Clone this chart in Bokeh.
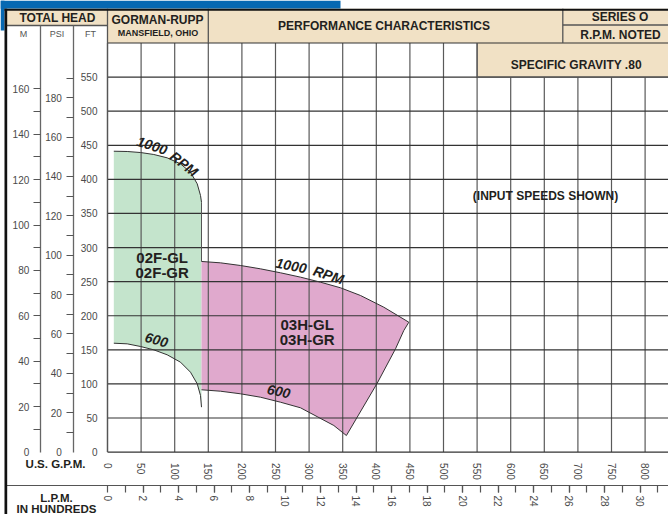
from bokeh.plotting import figure
from bokeh.models import Range1d, LinearAxis, FixedTicker, Label
from bokeh.embed import file_html
from bokeh.resources import INLINE

# ---------------- data ----------------
gpm_ticks = list(range(0, 801, 50))
ft_ticks = list(range(0, 551, 50))
psi_ticks = list(range(0, 181, 20))
psi_minor = list(range(10, 191, 10))
m_ticks = list(range(0, 161, 20))
m_minor = list(range(10, 161, 10))
lpm_ticks = list(range(0, 31, 2))
lpm_minor = list(range(1, 32, 1))

# 02F-GL / 02F-GR  (U.S. GPM, feet)
f02_hi_gpm = [9.4, 29.3, 49.1, 68.9, 88.8, 108.6, 123.5, 133.5, 138.4, 139.9]
f02_hi_ft = [441.3, 440.9, 439.4, 436.5, 431.6, 422.8, 410.5, 393.5, 376.4, 366.5]
f02_lo_gpm = [9.4, 29.3, 49.1, 68.9, 88.8, 108.6, 123.5, 133.5, 138.4, 139.9]
f02_lo_ft = [159.7, 158.8, 154.9, 150.0, 142.7, 131.9, 117.2, 100.2, 83.0, 65.9]

# 03H-GL / 03H-GR
h03_hi_gpm = [139.9, 168.2, 197.9, 227.7, 257.4, 287.2, 317.0, 346.7, 376.5, 411.2, 448.4]
h03_hi_ft = [279.6, 277.6, 273.7, 268.8, 263.0, 256.6, 249.2, 241.0, 229.7, 212.5, 190.5]
h03_edge_gpm = [448.4, 440.9, 428.6, 401.3, 355.5]
h03_edge_ft = [190.5, 178.3, 151.5, 101.0, 24.3]
h03_lo_gpm = [139.9, 168.2, 197.9, 227.7, 257.4, 287.2, 312.0, 336.8, 355.5]
h03_lo_ft = [91.4, 89.3, 85.5, 80.5, 73.2, 65.0, 52.0, 39.0, 24.3]

# ---------------- scales ----------------
FT_PER_PSI = 2.31 / 0.80
FT_PER_M = 3.33
LPMH_PER_GPM = 3.785 / 100.0

W, H = 668, 514
PXG = 0.672    # px per GPM
PXF = 0.6818   # px per ft
X0, X1 = -107.0 / PXG, 561.0 / PXG
Y1 = 451.6 / PXF
Y0 = Y1 - H / PXF

def gx(px):  # canvas px -> gpm (layout helper)
    return (px - 107.0) / PXG

def fy(py):  # canvas px -> ft (layout helper)
    return (451.6 - py) / PXF

TAN = "#f1e1c5"
GREEN = "#c4e4cc"
PINK = "#e0a9cd"
BLUE = "#0668b2"
TXT = "#231f20"
TICK = "#555555"
FONT = "Liberation Sans"

p = figure(width=W, height=H, x_range=Range1d(X0, X1), y_range=Range1d(Y0, Y1),
           output_backend="svg", toolbar_location=None,
           x_axis_location=None, y_axis_location=None, min_border=0,
           outline_line_color=None, background_fill_color="white",
           border_fill_color="white")
p.grid.grid_line_color = None
p.extra_y_ranges = {"psi": Range1d(Y0 / FT_PER_PSI, Y1 / FT_PER_PSI),
                    "m": Range1d(Y0 / FT_PER_M, Y1 / FT_PER_M)}
p.extra_x_ranges = {"lpm": Range1d(X0 * LPMH_PER_GPM, X1 * LPMH_PER_GPM)}

HDR_MID = fy(25)
TOPLINE = fy(8.2)
# blue band (top-left corner decoration)
p.quad(left=[X0, X0], right=[gx(340), gx(4)], bottom=[TOPLINE, fy(30)], top=[Y1, Y1],
       fill_color=BLUE, line_color=None)
# header backgrounds
p.quad(left=[gx(6), 0, 550], right=[0, X1, X1], bottom=[HDR_MID, 600, 550], top=[TOPLINE, TOPLINE, 600],
       fill_color=TAN, line_color=None)

# performance regions
p.patch(f02_hi_gpm + f02_lo_gpm[::-1], f02_hi_ft + f02_lo_ft[::-1],
        fill_color=GREEN, line_color=None)
p.patch(h03_hi_gpm + h03_edge_gpm[1:] + h03_lo_gpm[::-1][1:],
        h03_hi_ft + h03_edge_ft[1:] + h03_lo_ft[::-1][1:],
        fill_color=PINK, line_color=None)

# grid
vg = [g for g in gpm_ticks]
p.segment(x0=vg, y0=[0] * len(vg), x1=vg, y1=[550 if g > 550 else 600 for g in vg],
          line_color="#5a5a5a", line_width=1.2)
p.segment(x0=[0] * (len(ft_ticks) + 1), y0=ft_ticks + [600],
          x1=[X1] * (len(ft_ticks) + 1), y1=ft_ticks + [600],
          line_color="#333333", line_width=1.2)
# SG box border
p.segment(x0=[550, 550], y0=[550, 550], x1=[550, X1], y1=[600, 550], line_color="#5a5a5a", line_width=1.2)

# header dividers
p.segment(x0=[gx(6), gx(562.3), 0, 150, gx(562.3)],
          y0=[HDR_MID, fy(24.5), 0, 600, 600],
          x1=[0, X1, 0, 150, gx(562.3)],
          y1=[HDR_MID, fy(24.5), TOPLINE, TOPLINE, TOPLINE],
          line_color="#555555", line_width=1.3)
# LPM baseline
p.segment(x0=[gx(6)], y0=[fy(485)], x1=[X1], y1=[fy(485)], line_color="#555555", line_width=1.2)
# outer frame (top and left)
p.quad(left=[gx(4), gx(4)], right=[X1, gx(6.7)], bottom=[fy(10.2), Y0], top=[TOPLINE, TOPLINE],
       fill_color="#111111", line_color=None)

# region outlines
p.line(f02_hi_gpm, f02_hi_ft, line_color="#333333", line_width=1)
p.line(f02_lo_gpm, f02_lo_ft, line_color="#333333", line_width=1)
p.line([f02_hi_gpm[-1]] * 2, [f02_hi_ft[-1], h03_hi_ft[0]], line_color="#555555", line_width=1)
p.line(h03_hi_gpm + h03_edge_gpm[1:] + h03_lo_gpm[::-1],
       h03_hi_ft + h03_edge_ft[1:] + h03_lo_ft[::-1], line_color="#333333", line_width=1)

# ---------------- axes ----------------
def style(ax, standoff):
    ax.major_label_text_font = FONT
    ax.major_label_text_font_size = "10px"
    ax.major_label_text_color = "#4a4a4a"
    ax.major_label_standoff = standoff
    ax.major_tick_in = 0
    ax.minor_tick_in = 0

ax_ft = LinearAxis(fixed_location=0, ticker=FixedTicker(ticks=ft_ticks))
style(ax_ft, 4)
ax_ft.axis_line_color = None
ax_ft.major_tick_line_color = None
ax_ft.minor_tick_line_color = None
p.add_layout(ax_ft, "left")

ax_psi = LinearAxis(fixed_location=-50, y_range_name="psi", bounds=(0, HDR_MID / FT_PER_PSI),
                    ticker=FixedTicker(ticks=psi_ticks, minor_ticks=psi_minor))
style(ax_psi, 5)
ax_psi.major_tick_out = 0
ax_psi.major_tick_line_color = None
ax_psi.minor_tick_out = 7
ax_psi.minor_tick_line_color = TICK
ax_psi.minor_tick_line_width = 1.2
ax_psi.axis_line_color = "#666666"
ax_psi.axis_line_width = 1.3
p.add_layout(ax_psi, "left")

ax_m = LinearAxis(fixed_location=-100, y_range_name="m", bounds=(0, HDR_MID / FT_PER_M),
                  ticker=FixedTicker(ticks=m_ticks, minor_ticks=m_minor))
style(ax_m, 4)
ax_m.major_tick_out = 0
ax_m.major_tick_line_color = None
ax_m.minor_tick_out = 7
ax_m.minor_tick_line_color = TICK
ax_m.minor_tick_line_width = 1.2
ax_m.axis_line_color = "#666666"
ax_m.axis_line_width = 1.3
p.add_layout(ax_m, "left")

ax_gpm = LinearAxis(fixed_location=0, ticker=FixedTicker(ticks=gpm_ticks),
                    major_label_orientation="vertical")
style(ax_gpm, 5)
ax_gpm.axis_line_color = None
ax_gpm.major_tick_line_color = None
ax_gpm.minor_tick_line_color = None
p.add_layout(ax_gpm, "below")

ax_lpm = LinearAxis(fixed_location=fy(485), x_range_name="lpm",
                    ticker=FixedTicker(ticks=lpm_ticks, minor_ticks=lpm_minor),
                    major_label_orientation="vertical")
style(ax_lpm, 3)
ax_lpm.axis_line_color = None
ax_lpm.major_tick_out = 7
ax_lpm.minor_tick_out = 7
ax_lpm.major_tick_line_color = TICK
ax_lpm.minor_tick_line_color = TICK
ax_lpm.major_tick_line_width = 1.2
ax_lpm.minor_tick_line_width = 1.2
p.add_layout(ax_lpm, "below")

# ---------------- texts ----------------
def txt(x, y, s, size, style_="bold", color=TXT, angle=0):
    p.add_layout(Label(x=x, y=y, text=s, text_font=FONT, text_font_size=f"{size}px",
                       text_font_style=style_, text_color=color, text_align="center",
                       text_baseline="middle", angle=angle, angle_units="deg"))

txt(gx(57), fy(17), "TOTAL HEAD", 12)
txt(gx(23), fy(33.5), "M", 9, "normal", "#555555")
txt(gx(56.5), fy(33.5), "PSI", 9, "normal", "#555555")
txt(gx(90), fy(33.5), "FT", 9, "normal", "#555555")
txt(gx(157), fy(19.5), "GORMAN-RUPP", 12)
txt(gx(157.5), fy(32.5), "MANSFIELD, OHIO", 9)
txt(gx(383.5), fy(25.5), "PERFORMANCE CHARACTERISTICS", 12)
txt(gx(619.5), fy(16.5), "SERIES O", 12)
txt(gx(620), fy(34), "R.P.M. NOTED", 12)
txt(gx(575.7), fy(64.5), "SPECIFIC GRAVITY .80", 12)
txt(gx(545), fy(195.5), "(INPUT SPEEDS SHOWN)", 12)
txt(gx(55), fy(463), "U.S. G.P.M.", 11.5)
txt(gx(56), fy(497), "L.P.M.", 11.5)
txt(gx(56), fy(508.5), "IN HUNDREDS", 11.5)

txt(gx(161.7), fy(256.7), "02F-GL", 15)
txt(gx(161.7), fy(271.7), "02F-GR", 15)
txt(gx(306.7), fy(324.3), "03H-GL", 15)
txt(gx(306.7), fy(339.3), "03H-GR", 15)

txt(gx(151.7), fy(145), "1000", 14, "bold italic", angle=-18)
txt(gx(183.5), fy(163.5), "RPM", 14, "bold italic", angle=-38)
txt(gx(290.7), fy(265), "1000", 14, "bold italic", angle=-11)
txt(gx(328), fy(274.5), "RPM", 14, "bold italic", angle=-18)
txt(gx(156), fy(339.3), "600", 14, "bold italic", angle=-15)
txt(gx(278.3), fy(390.7), "600", 14, "bold italic", angle=-12)

open("out.html", "w").write(file_html(p, INLINE))
